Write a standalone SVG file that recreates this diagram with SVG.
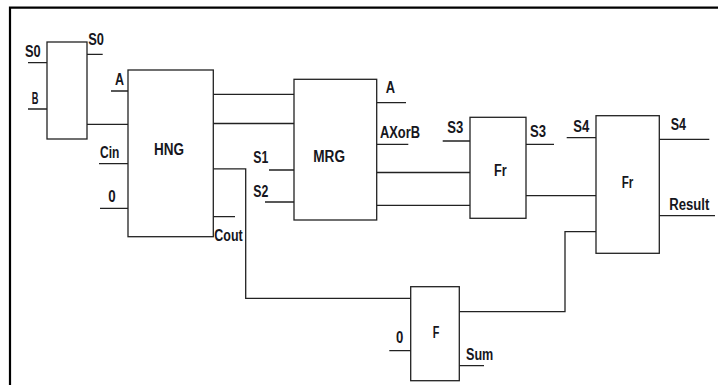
<svg xmlns="http://www.w3.org/2000/svg" width="718" height="385" viewBox="0 0 718 385">
<style>
.box{fill:#fff;stroke:#222;stroke-width:1.3}
.w{fill:none;stroke:#222;stroke-width:1.3}
.b{fill:none;stroke:#000;stroke-width:2.2}
text{font-family:"Liberation Sans",Arial,sans-serif;font-weight:bold;font-size:16px;fill:#161620}
</style>
<rect width="718" height="385" fill="#fff"/>
<g id="border">
<path class="b" d="M10 385 V7.7 H718"/>
</g>
<g id="connectors">
<path class="w" d="M87 124.3 H128"/>
<path class="w" d="M213 94.3 H294"/>
<path class="w" d="M213 123.5 H294"/>
<path class="w" d="M213 168.8 H245.7 V298.3 H410.7"/>
<path class="w" d="M377 172.5 H470"/>
<path class="w" d="M377 205.3 H470"/>
<path class="w" d="M526 195.7 H596"/>
<path class="w" d="M459.3 311.7 H565 V231.7 H596"/>
</g>
<g id="node-sbox">
<rect class="box" x="47" y="42" width="40" height="97"/>
<path class="w" d="M28 62.7 H47 M28 109 H47 M87 54.3 H102.7"/>
<text x="25" y="57.3" textLength="15.7" lengthAdjust="spacingAndGlyphs">S0</text>
<text x="31.7" y="104.3" textLength="6.7" lengthAdjust="spacingAndGlyphs">B</text>
<text x="88.3" y="45" textLength="15.7" lengthAdjust="spacingAndGlyphs">S0</text>
</g>
<g id="node-hng">
<rect class="box" x="128" y="70" width="85.3" height="166.7"/>
<path class="w" d="M111 91 H128 M99 163.7 H128 M100 208.3 H128 M213 216.7 H235"/>
<text x="115" y="85" textLength="9" lengthAdjust="spacingAndGlyphs">A</text>
<text x="100" y="158.3" textLength="19.3" lengthAdjust="spacingAndGlyphs">Cin</text>
<text x="108.3" y="202.3" textLength="7.4" lengthAdjust="spacingAndGlyphs">0</text>
<text x="154" y="155" textLength="30" lengthAdjust="spacingAndGlyphs">HNG</text>
<text x="214.3" y="241" textLength="28.4" lengthAdjust="spacingAndGlyphs">Cout</text>
</g>
<g id="node-mrg">
<rect class="box" x="294" y="79.3" width="82.7" height="140.7"/>
<path class="w" d="M269 170 H294 M265 202 H294 M377 102.7 H406 M377 144.3 H408.3"/>
<text x="253.3" y="163.3" textLength="15" lengthAdjust="spacingAndGlyphs">S1</text>
<text x="253.3" y="196.7" textLength="15" lengthAdjust="spacingAndGlyphs">S2</text>
<text x="313.3" y="161.7" textLength="31.7" lengthAdjust="spacingAndGlyphs">MRG</text>
<text x="385.7" y="93.3" textLength="9.3" lengthAdjust="spacingAndGlyphs">A</text>
<text x="380" y="138.3" textLength="40" lengthAdjust="spacingAndGlyphs">AXorB</text>
</g>
<g id="node-fr1">
<rect class="box" x="470" y="117.3" width="56" height="101"/>
<path class="w" d="M442.7 141 H470 M526 144.3 H554"/>
<text x="447.3" y="133.3" textLength="16" lengthAdjust="spacingAndGlyphs">S3</text>
<text x="530" y="136.7" textLength="16" lengthAdjust="spacingAndGlyphs">S3</text>
<text x="494" y="176" textLength="12.7" lengthAdjust="spacingAndGlyphs">Fr</text>
</g>
<g id="node-fr2">
<rect class="box" x="596" y="115.7" width="63.3" height="137.6"/>
<path class="w" d="M566.7 137.7 H596 M659.3 139.3 H709.3 M659.3 215.7 H715"/>
<text x="573.3" y="131.7" textLength="16" lengthAdjust="spacingAndGlyphs">S4</text>
<text x="670.7" y="130" textLength="15.3" lengthAdjust="spacingAndGlyphs">S4</text>
<text x="621.7" y="188.3" textLength="11.6" lengthAdjust="spacingAndGlyphs">Fr</text>
<text x="669.3" y="210" textLength="40" lengthAdjust="spacingAndGlyphs">Result</text>
</g>
<g id="node-f">
<rect class="box" x="410.7" y="286.7" width="48.6" height="94"/>
<path class="w" d="M389.3 350.7 H410.7 M459.3 365.7 H484"/>
<text x="396" y="343.3" textLength="7.3" lengthAdjust="spacingAndGlyphs">0</text>
<text x="432.7" y="338.3" textLength="6.6" lengthAdjust="spacingAndGlyphs">F</text>
<text x="466" y="360" textLength="27.3" lengthAdjust="spacingAndGlyphs">Sum</text>
</g>
</svg>
